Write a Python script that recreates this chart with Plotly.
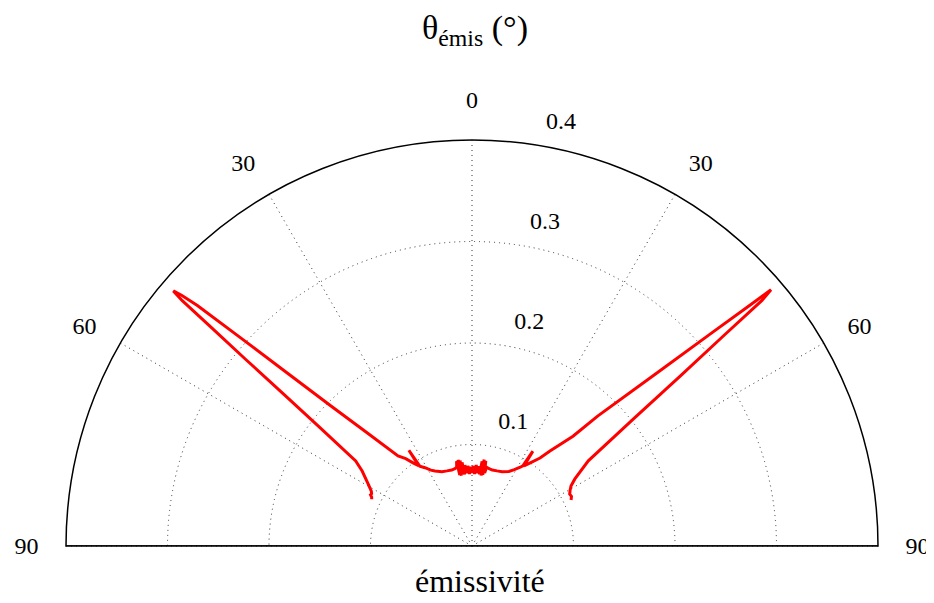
import plotly.graph_objects as go

# Emission angle (deg, negative = left side) and emissivity
theta_left = [-65.0, -64.0, -63.2, -62.5, -61.4, -59.2, -55.7, -53.8, -52.1, -51.1,
              -50.5, -50.0, -49.75, -49.5, -49.2, -48.8, -48.0, -46.9, -45.2, -43.0,
              -39.4, -37.2, -35.2, -33.6, -33.4, -33.2, -31.0, -28.5, -26.3, -22.0,
              -18.4, -15.0, -12.5]
r_left = [0.109, 0.110, 0.112, 0.1115, 0.113, 0.119, 0.131, 0.142, 0.1905, 0.2395,
          0.2885, 0.3375, 0.374, 0.387, 0.378, 0.3596, 0.3049, 0.2502, 0.1958, 0.155,
          0.1148, 0.108, 0.100, 0.095, 0.113, 0.094, 0.090, 0.085, 0.0824, 0.079,
          0.078, 0.0775, 0.078]

theta_mid = [-11.0, -10.3, -9.8, -9.2, -8.6, -8.0, -7.4, -6.8, -6.0, -5.0, -4.0, -3.0,
             -2.0, -1.0, 0.0, 1.0, 2.0, 3.0, 4.0, 5.0, 6.0, 6.8, 7.4, 8.0, 8.6, 9.2,
             9.8, 10.5]
r_mid = [0.079, 0.085, 0.071, 0.086, 0.070, 0.085, 0.072, 0.083, 0.071, 0.080, 0.072,
         0.079, 0.071, 0.078, 0.072, 0.079, 0.071, 0.080, 0.072, 0.079, 0.071, 0.084,
         0.070, 0.086, 0.071, 0.085, 0.073, 0.079]

theta_right = [12.5, 15.0, 18.4, 22.0, 26.3, 29.0, 31.5, 32.4, 32.7, 33.0, 35.0, 37.7,
               39.4, 42.6, 44.05, 46.85, 48.4, 49.07, 49.4, 49.75, 50.1, 50.8, 51.8,
               53.8, 56.9, 58.8, 60.5, 62.0, 63.5, 65.1]
r_right = [0.078, 0.0775, 0.078, 0.079, 0.082, 0.086, 0.091, 0.0935, 0.111, 0.094,
           0.100, 0.1096, 0.121, 0.147, 0.178, 0.2478, 0.3177, 0.3597, 0.388, 0.374,
           0.3252, 0.264, 0.2028, 0.142, 0.121, 0.114, 0.111, 0.109, 0.1095, 0.1076]

radial_ticks = [0.1, 0.2, 0.3, 0.4]
radial_labels = ["0.1", "0.2", "0.3", "0.4"]
radial_range = [0, 0.4]
angle_ticks = [-90, -60, -30, 0, 30, 60, 90]
angle_labels = ["90", "60", "30", "0", "30", "60", "90"]
baseline_theta = [-90, 0, 90]
baseline_r = [0.4, 0, 0.4]

theta = theta_left + theta_mid + theta_right
r = r_left + r_mid + r_right

FONT = "Liberation Serif"
RADIAL_LABEL_ANGLE = 9  # direction (deg from vertical) along which radial tick labels sit

fig = go.Figure()
fig.add_trace(go.Scatterpolar(r=baseline_r, theta=baseline_theta, mode="lines",
                              line=dict(color="black", width=1.5),
                              hoverinfo="skip", showlegend=False))
fig.add_trace(go.Scatterpolar(r=r, theta=theta, mode="lines",
                              line=dict(color="#ff0000", width=3),
                              showlegend=False))
# radial tick labels, placed at the tick values along one direction
fig.add_trace(go.Scatterpolar(r=radial_ticks, theta=[RADIAL_LABEL_ANGLE] * len(radial_ticks),
                              mode="markers+text", text=radial_labels, textposition="top right",
                              marker=dict(size=15, color="rgba(0,0,0,0)"),
                              textfont=dict(family=FONT, size=24, color="black"),
                              hoverinfo="skip", showlegend=False, cliponaxis=False))

fig.update_layout(
    width=934, height=603,
    margin=dict(l=0, r=0, t=0, b=0),
    paper_bgcolor="white",
    font=dict(family=FONT, color="black", size=24),
    showlegend=False,
    polar=dict(
        domain=dict(x=[58 / 934, 870 / 934], y=[65 / 603, 471 / 603]),
        sector=[0, 180],
        bgcolor="white",
        angularaxis=dict(
            rotation=90, direction="clockwise",
            tickmode="array", tickvals=angle_ticks, ticktext=angle_labels,
            showline=True, linecolor="black", linewidth=1.5,
            showgrid=True, gridcolor="#333", gridwidth=1, griddash="1px,4px",
            ticks="outside", ticklen=22, tickcolor="rgba(0,0,0,0)",
            tickfont=dict(family=FONT, size=24, color="black"),
        ),
        radialaxis=dict(
            range=radial_range, tickmode="array", tickvals=radial_ticks,
            showticklabels=False,
            showline=False, ticks="", angle=82,
            showgrid=True, gridcolor="#333", gridwidth=1, griddash="1px,4px",
        ),
    ),
    annotations=[
        dict(text="θ<sub>émis</sub> (°)", x=467 / 934, y=1 - 22 / 603,
             xref="paper", yref="paper", showarrow=False,
             xanchor="center", yanchor="middle",
             font=dict(family=FONT, size=34, color="black")),
        dict(text="émissivité", x=472 / 934, y=1 - 573 / 603,
             xref="paper", yref="paper", showarrow=False,
             xanchor="center", yanchor="middle",
             font=dict(family=FONT, size=32, color="black")),
    ],
)

fig.write_html("out.html")
